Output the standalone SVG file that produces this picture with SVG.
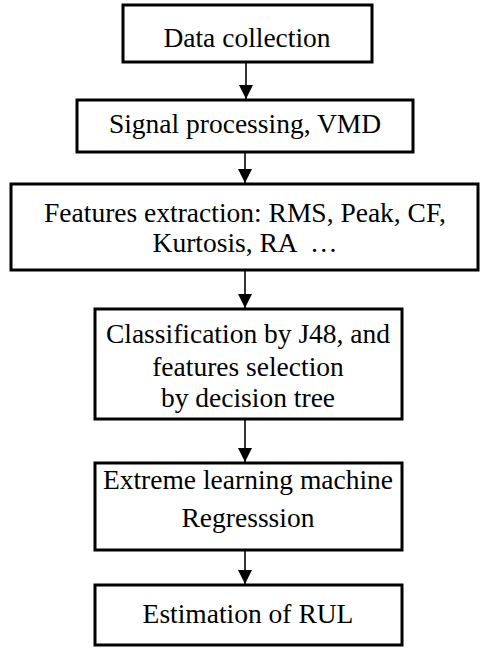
<svg xmlns="http://www.w3.org/2000/svg" width="480" height="648" viewBox="0 0 480 648">
  <defs>
    <marker id="arrow" viewBox="0 0 14 16" refX="14" refY="7" markerWidth="14" markerHeight="16" markerUnits="userSpaceOnUse" orient="auto">
      <path d="M0,0 L14,7 L0,14 Z" fill="#000"/>
    </marker>
    <style>
      .box { fill: #fff; stroke: #000; stroke-width: 3; }
      .lbl { font-family: 'Liberation Serif', 'DejaVu Serif', serif; font-size: 27.5px; fill: #000; text-anchor: middle; }
      .edge { stroke: #000; stroke-width: 1.6; fill: none; marker-end: url(#arrow); }
    </style>
  </defs>
  <rect width="480" height="648" fill="#fff"/>

  <!-- flow connectors -->
  <g id="connectors">
    <line class="edge" x1="246" y1="62" x2="246" y2="99"/>
    <line class="edge" x1="245" y1="152" x2="245" y2="183"/>
    <line class="edge" x1="245" y1="270" x2="245" y2="308"/>
    <line class="edge" x1="245" y1="419" x2="245" y2="462"/>
    <line class="edge" x1="245" y1="550" x2="245" y2="584"/>
  </g>

  <g id="data-collection">
    <rect class="box" x="123" y="5" width="249" height="57"/>
    <text class="lbl" font-family="Liberation Serif, serif" x="247" y="47">Data collection</text>
  </g>

  <g id="signal-processing">
    <rect class="box" x="77" y="100" width="336" height="52"/>
    <text class="lbl" font-family="Liberation Serif, serif" x="245" y="133">Signal processing, VMD</text>
  </g>

  <g id="features-extraction">
    <rect class="box" x="11" y="184" width="467" height="86"/>
    <text class="lbl" font-family="Liberation Serif, serif" x="245" y="222">Features extraction: RMS, Peak, CF,</text>
    <text class="lbl" font-family="Liberation Serif, serif" x="245" y="252" xml:space="preserve">Kurtosis, RA  …</text>
  </g>

  <g id="classification">
    <rect class="box" x="95" y="309" width="307" height="110"/>
    <text class="lbl" font-family="Liberation Serif, serif" x="248" y="343">Classification by J48, and</text>
    <text class="lbl" font-family="Liberation Serif, serif" x="248" y="376">features selection</text>
    <text class="lbl" font-family="Liberation Serif, serif" x="248" y="407">by decision tree</text>
  </g>

  <g id="elm-regression">
    <rect class="box" x="95" y="463" width="307" height="87"/>
    <text class="lbl" font-family="Liberation Serif, serif" x="248" y="489">Extreme learning machine</text>
    <text class="lbl" font-family="Liberation Serif, serif" x="248" y="527">Regresssion</text>
  </g>

  <g id="rul-estimation">
    <rect class="box" x="95" y="585" width="307" height="60"/>
    <text class="lbl" font-family="Liberation Serif, serif" x="248" y="623">Estimation of RUL</text>
  </g>
</svg>
